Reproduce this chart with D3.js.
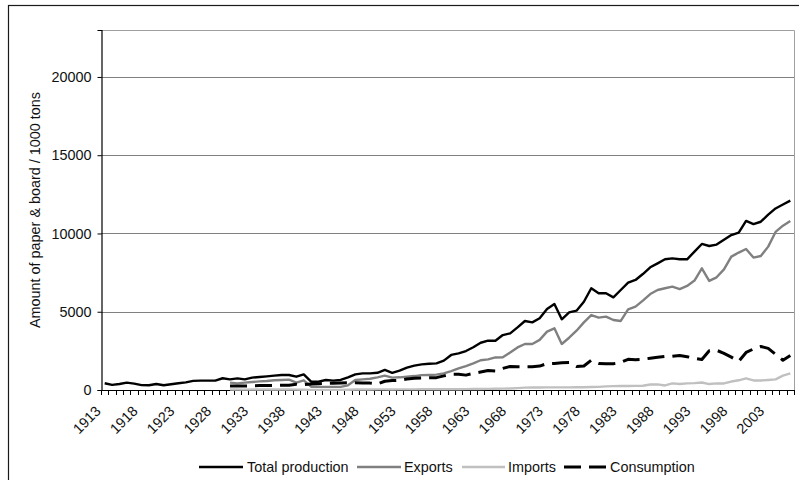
<!DOCTYPE html>
<html>
<head>
<meta charset="utf-8">
<script src="https://cdn.jsdelivr.net/npm/d3@7/dist/d3.min.js"></script>
<style>
  html, body { margin: 0; padding: 0; background: #fff; }
  svg { display: block; font-family: "Liberation Sans", Arial, sans-serif; }
</style>
</head>
<body>
<svg id="chart" width="799" height="480"></svg>
<script>
// Paper & board: production, exports, imports and apparent consumption (1000 tons)
const years = d3.range(1913, 2007);

const totalProduction = [
  430, 330, 380, 470, 410, 310, 300, 380, 300, 370,
  430, 490, 580, 600, 600, 600, 750, 680, 740, 680,
  790, 830, 870, 915, 960, 960, 850, 1000, 530, 530,
  640, 600, 640, 810, 1000, 1065, 1065, 1100, 1280, 1100,
  1240, 1430, 1555, 1640, 1680, 1700, 1875, 2240, 2340, 2490,
  2730, 3020, 3150, 3150, 3510, 3620, 4000, 4410, 4320, 4580,
  5180, 5500, 4520, 4960, 5070, 5640, 6500, 6180, 6180, 5920,
  6390, 6860, 7030, 7410, 7840, 8090, 8350, 8410, 8350, 8350,
  8840, 9330, 9200, 9290, 9600, 9900, 10050, 10800, 10600, 10750,
  11200, 11600, 11850, 12100
];

// Trade and consumption figures begin in 1930
const exportsData = [
  null, null, null, null, null, null, null, null, null, null,
  null, null, null, null, null, null, null,
  470, 425, 470,
  510, 550, 575, 620, 640, 660, 470, 620, 210, 200,
  200, 200, 200, 300, 640, 680, 720, 810, 915, 790,
  810, 850, 890, 950, 960, 980, 1060, 1210, 1380, 1530,
  1700, 1900, 1960, 2080, 2090, 2390, 2720, 2940, 2940, 3200,
  3730, 3940, 2940, 3340, 3790, 4320, 4790, 4620, 4690, 4470,
  4410, 5150, 5330, 5710, 6130, 6390, 6500, 6600, 6450, 6650,
  6990, 7770, 6970, 7200, 7710, 8520, 8780, 9010, 8460, 8560,
  9160, 10100, 10500, 10800
];

const importsData = [
  null, null, null, null, null, null, null, null, null, null,
  null, null, null, null, null, null, null,
  30, 30, 25,
  30, 30, 35, 35, 30, 30, 25, 20, 10, 10,
  10, 10, 10, 15, 30, 35, 35, 40, 40, 35,
  40, 40, 40, 45, 45, 45, 50, 50, 50, 55,
  60, 64, 70, 80, 90, 100, 120, 150, 160, 160,
  165, 170, 170, 170, 175, 180, 190, 200, 230, 250,
  255, 260, 265, 275, 350, 360, 290, 420, 380, 420,
  440, 480, 380, 420, 420, 540, 620, 740, 610, 610,
  640, 680, 920, 1060
];

const consumptionData = [
  null, null, null, null, null, null, null, null, null, null,
  null, null, null, null, null, null, null,
  250, 250, 260,
  270, 280, 280, 290, 300, 310, 370, 340, 390, 400,
  420, 430, 450, 460, 470, 450, 440, 380, 560, 600,
  620, 700, 750, 770, 780, 790, 900, 1000, 1000, 950,
  1060, 1150, 1250, 1220, 1380, 1500, 1490, 1490, 1490, 1530,
  1690, 1700, 1740, 1760, 1500, 1530, 1900, 1700, 1680, 1680,
  1760, 1960, 1930, 1960, 2030, 2090, 2150, 2150, 2200, 2130,
  2030, 1950, 2510, 2540, 2340, 2100, 1830, 2400, 2620, 2780,
  2660, 2280, 1900, 2200
];

const yTickValues = [0, 5000, 10000, 15000, 20000];
const xLabelYears = years.filter(y => (y - 1913) % 5 === 0 && y <= 2003);

const seriesNames = ["Total production", "Exports", "Imports", "Consumption"];

const series = [
  { name: seriesNames[0], values: totalProduction, color: "#000000", width: 2.4, dash: null },
  { name: seriesNames[1], values: exportsData,     color: "#808080", width: 2.4, dash: null },
  { name: seriesNames[2], values: importsData,     color: "#c0c0c0", width: 2.4, dash: null },
  { name: seriesNames[3], values: consumptionData, color: "#000000", width: 3,   dash: "17,8" }
];

const svg = d3.select("#chart");
const plot = { left: 101, right: 794, top: 30, bottom: 390 };

// outer chart frame
svg.append("rect")
  .attr("x", 8.5).attr("y", 5.5)
  .attr("width", 820).attr("height", 500)
  .attr("fill", "none").attr("stroke", "#1a1a1a").attr("stroke-width", 1.2);

const x = d3.scalePoint().domain(years).range([plot.left, plot.right]).padding(0.5);
const step = x.step();
const y = d3.scaleLinear().domain([0, 23000]).range([plot.bottom, plot.top]);

// gridlines
svg.append("g").selectAll("line")
  .data(yTickValues.filter(v => v > 0))
  .join("line")
  .attr("x1", plot.left).attr("x2", plot.right)
  .attr("y1", d => Math.round(y(d)) + 0.5).attr("y2", d => Math.round(y(d)) + 0.5)
  .attr("stroke", "#808080").attr("stroke-width", 1);

// plot area border (top and right)
svg.append("path")
  .attr("d", `M${plot.left},${plot.top + 0.5}H${plot.right + 0.5}V${plot.bottom}`)
  .attr("fill", "none").attr("stroke", "#a0a0a0").attr("stroke-width", 1);

// y axis
const yAxis = d3.axisLeft(y).tickValues(yTickValues).tickSize(4).tickPadding(6).tickFormat(d3.format("d"));
const gy = svg.append("g").attr("transform", `translate(${plot.left + 0.5},0)`).call(yAxis);
gy.select(".domain").attr("stroke", "#000").attr("stroke-width", 1.2);
gy.selectAll(".tick line").attr("stroke", "#000");
gy.selectAll(".tick text")
  .attr("font-size", "14.4px").attr("fill", "#111")
  .attr("font-family", "Liberation Sans, Arial, sans-serif");

// x axis: tick marks at category boundaries
const boundaries = years.map(yr => x(yr) - step / 2).concat([x(years[years.length - 1]) + step / 2]);
svg.append("line")
  .attr("x1", plot.left).attr("x2", plot.right)
  .attr("y1", plot.bottom + 0.5).attr("y2", plot.bottom + 0.5)
  .attr("stroke", "#000").attr("stroke-width", 1.2);
svg.append("g").selectAll("line")
  .data(boundaries)
  .join("line")
  .attr("x1", d => Math.round(d) + 0.5).attr("x2", d => Math.round(d) + 0.5)
  .attr("y1", plot.bottom).attr("y2", plot.bottom + 5)
  .attr("stroke", "#000").attr("stroke-width", 1);

// rotated year labels
svg.append("g").selectAll("text")
  .data(xLabelYears)
  .join("text")
  .attr("transform", d => `translate(${x(d) - 3},${plot.bottom + 22}) rotate(-45)`)
  .attr("text-anchor", "end")
  .attr("font-size", "14.4px").attr("fill", "#111")
  .text(d => d);

// y axis title
svg.append("text")
  .attr("transform", `translate(40,${(plot.top + plot.bottom) / 2}) rotate(-90)`)
  .attr("text-anchor", "middle")
  .attr("font-size", "14.4px").attr("fill", "#111")
  .text("Amount of paper & board / 1000 tons");

// series lines
const line = d3.line()
  .defined(d => d.v != null)
  .x(d => x(d.year))
  .y(d => y(d.v));

svg.append("g").selectAll("path")
  .data(series)
  .join("path")
  .attr("d", s => line(years.map((yr, i) => ({ year: yr, v: s.values[i] }))))
  .attr("fill", "none")
  .attr("stroke", s => s.color)
  .attr("stroke-width", s => s.width)
  .attr("stroke-dasharray", s => s.dash)
  .attr("stroke-linejoin", "round");

// legend
const legendItems = [
  { s: series[0], x1: 199, x2: 243, tx: 247 },
  { s: series[1], x1: 357, x2: 401, tx: 404 },
  { s: series[2], x1: 462, x2: 505, tx: 508 },
  { s: series[3], x1: 564, x2: 606, tx: 610 }
];
const lg = svg.append("g");
lg.selectAll("line")
  .data(legendItems)
  .join("line")
  .attr("x1", d => d.x1).attr("x2", d => d.x2)
  .attr("y1", 467).attr("y2", 467)
  .attr("stroke", d => d.s.color)
  .attr("stroke-width", d => d.s.width)
  .attr("stroke-dasharray", d => d.s.dash);
lg.selectAll("text")
  .data(legendItems)
  .join("text")
  .attr("x", d => d.tx).attr("y", 467)
  .attr("dy", "0.35em")
  .attr("font-size", "14.4px").attr("fill", "#111")
  .text(d => d.s.name);
</script>
</body>
</html>
